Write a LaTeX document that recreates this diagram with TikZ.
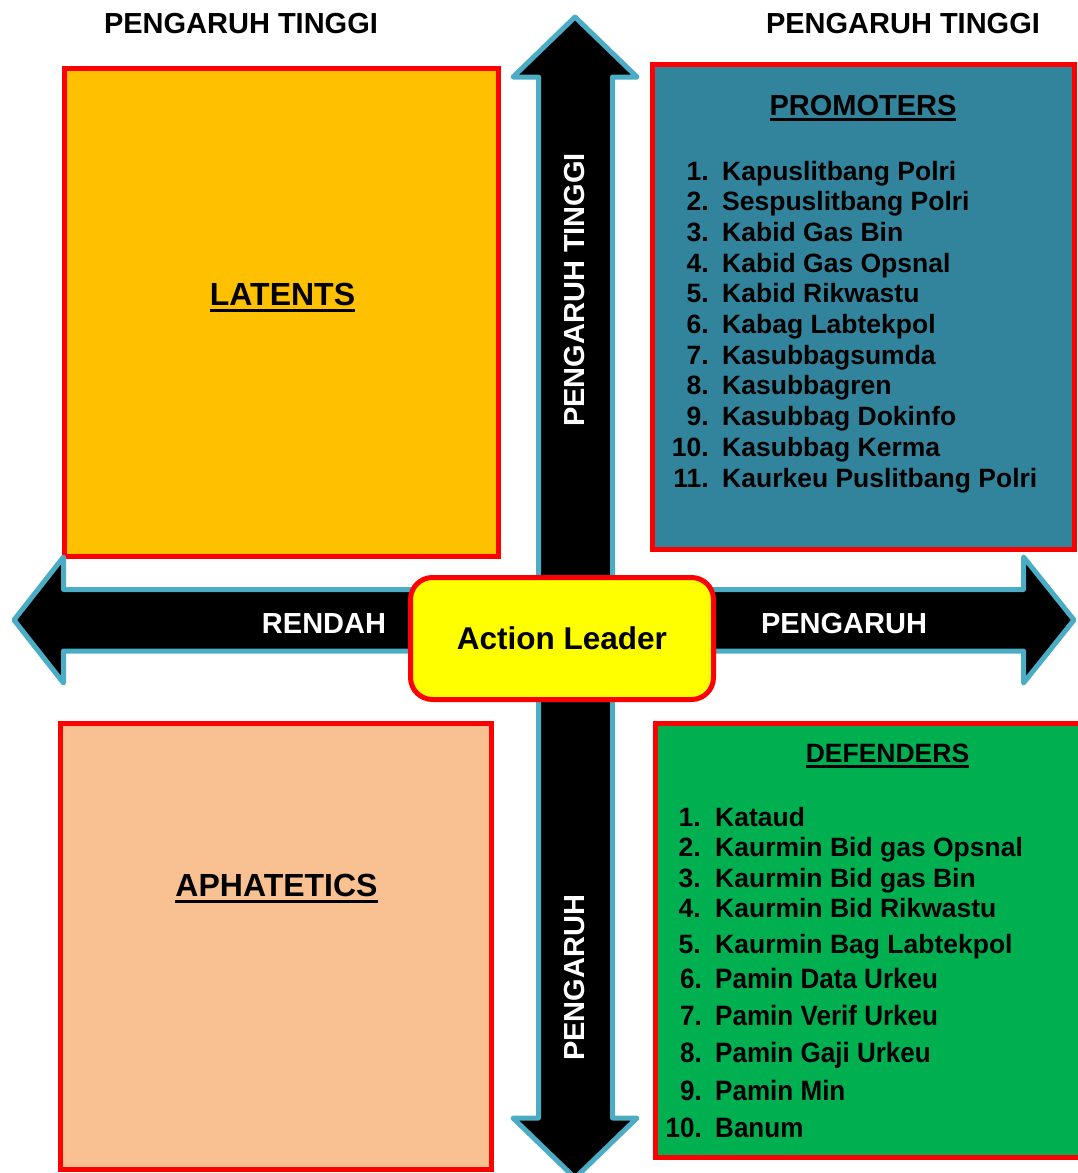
\documentclass[tikz,border=0pt]{standalone}
\usepackage{fontspec}
\setmainfont{Liberation Sans}
\newfontfamily\narrowfont{Liberation Sans}[FakeStretch=0.93]
\definecolor{arrowblue}{HTML}{4BACC6}
\definecolor{latentc}{HTML}{FFC000}
\definecolor{promoc}{HTML}{31849B}
\definecolor{aphatc}{HTML}{F9C192}
\definecolor{defendc}{HTML}{00B050}
\definecolor{redc}{HTML}{FF0000}
\definecolor{yellowc}{HTML}{FFFF00}
\newsavebox\ulsave
\newcommand\ulbox[1]{\sbox\ulsave{#1}\rlap{\rule[-6pt]{\wd\ulsave}{2.6pt}}\usebox\ulsave}
\tikzset{
  quadbox/.style={draw=redc, line width=5pt, inner sep=0pt, outer sep=0pt},
  bigarrow/.style={fill=black, draw=arrowblue, line width=5pt, line join=round},
  headlbl/.style={inner sep=0pt, font=\fontsize{29}{34}\selectfont\bfseries},
  arrlbl/.style={inner sep=0pt, text=white, font=\fontsize{29}{34}\selectfont\bfseries},
  quadtitle/.style={inner sep=0pt, anchor=base, font=\fontsize{32}{38}\selectfont\bfseries},
  listtitle/.style={inner sep=0pt, anchor=base},
  itemtxt/.style={inner sep=0pt, font=\fontsize{26.5}{30}\selectfont\bfseries},
  narrowtxt/.style={inner sep=0pt, font=\narrowfont\fontsize{28}{32}\selectfont\bfseries},
  leader/.style={draw=redc, fill=yellowc, line width=5pt, rounded corners=22pt,
    minimum width=303pt, minimum height=122pt, inner sep=0pt,
    font=\fontsize{31.5}{36}\selectfont\bfseries}
}
\begin{document}
\begin{tikzpicture}[x=1pt, y=-1pt]
\useasboundingbox (0,0) rectangle (1078,1173);
\clip (0,0) rectangle (1078,1173);

% quadrant boxes
\node[quadbox, fill=latentc, minimum width=434pt, minimum height=488pt] (latents) at (281.5,312.5) {};
\node[quadbox, fill=promoc, minimum width=422pt, minimum height=485pt] (promoters) at (863.5,307) {};
\node[quadbox, fill=aphatc, minimum width=431pt, minimum height=446pt] (aphatetics) at (276,946.5) {};
\node[quadbox, fill=defendc, minimum width=429.5pt, minimum height=434pt] (defenders) at (870.25,940.5) {};

% arrows
\draw[bigarrow] (575,17) -- (637,77) -- (612.5,77) -- (612.5,1118) -- (637,1118) -- (575,1178)
  -- (513,1118) -- (538.5,1118) -- (538.5,77) -- (513,77) -- cycle;
\draw[bigarrow] (14,620) -- (63.5,557) -- (63.5,589.5) -- (1023.5,589.5) -- (1023.5,557) -- (1074,620)
  -- (1023.5,683) -- (1023.5,651) -- (63.5,651) -- (63.5,683) -- cycle;

% centre
\node[leader] (actionleader) at (562,638.5) {Action Leader};

% header labels
\node[headlbl] (hdleft) at (241,24) {PENGARUH TINGGI};
\node[headlbl] (hdright) at (903,24) {PENGARUH TINGGI};

% arrow labels
\node[arrlbl, rotate=90] (vtop) at (575,290) {PENGARUH TINGGI};
\node[arrlbl, rotate=90] (vbot) at (575,978) {PENGARUH};
\node[arrlbl] (hleft) at (324,624) {RENDAH};
\node[arrlbl] (hright) at (844,624) {PENGARUH};

% quadrant titles
\node[quadtitle] (tlatents) at (282.5,305.5) {\ulbox{LATENTS}};
\node[quadtitle] (taphat) at (276.5,896.5) {\ulbox{APHATETICS}};
\node[listtitle, font=\fontsize{29}{34}\selectfont\bfseries] (tpromo) at (863,115) {\ulbox{PROMOTERS}};
\node[listtitle, font=\fontsize{26.5}{30}\selectfont\bfseries] (tdefend) at (887.5,762) {\ulbox{DEFENDERS}};

% promoters list
\foreach \t [count=\i] in {Kapuslitbang Polri, Sespuslitbang Polri, Kabid Gas Bin, Kabid Gas Opsnal,
  Kabid Rikwastu, Kabag Labtekpol, Kasubbagsumda, Kasubbagren, Kasubbag Dokinfo, Kasubbag Kerma,
  Kaurkeu Puslitbang Polri} {
  \pgfmathsetmacro\yy{180+30.7*(\i-1)}
  \node[itemtxt, anchor=base east] (pn\i) at (709,\yy) {\i.};
  \node[itemtxt, anchor=base west] (pt\i) at (722,\yy) {\t};
}

% defenders list
\foreach \t/\yy [count=\i] in {Kataud/826, Kaurmin Bid gas Opsnal/856.5, Kaurmin Bid gas Bin/887,
  Kaurmin Bid Rikwastu/917.5, Kaurmin Bag Labtekpol/953} {
  \node[itemtxt, anchor=base east] (dn\i) at (701,\yy) {\i.};
  \node[itemtxt, anchor=base west] (dt\i) at (715,\yy) {\t};
}
\foreach \t/\yy [count=\j from 6] in {Pamin Data Urkeu/988, Pamin Verif Urkeu/1025,
  Pamin Gaji Urkeu/1062, Pamin Min/1100, Banum/1137} {
  \node[narrowtxt, anchor=base east] (dn\j) at (702,\yy) {\j.};
  \node[narrowtxt, anchor=base west] (dt\j) at (715,\yy) {\t};
}
\end{tikzpicture}
\end{document}
